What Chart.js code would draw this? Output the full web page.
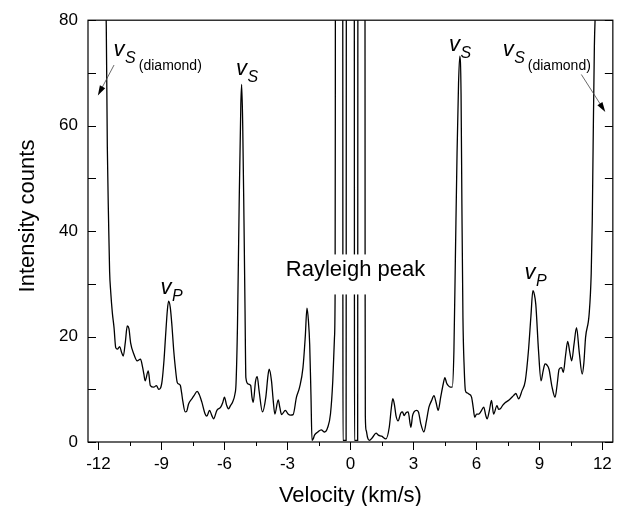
<!DOCTYPE html>
<html><head><meta charset="utf-8">
<script src="https://cdn.jsdelivr.net/npm/chart.js@4.4.1/dist/chart.umd.min.js"></script>
<style>html,body{margin:0;padding:0;background:#fff}canvas{display:block}</style>
</head><body>
<canvas id="c" width="624" height="506"></canvas>
<script>
// ---- data ----
const velocity = [
-12.5,-12.1,-11.8,-11.68,-11.63,-11.58,-11.52,-11.47,-11.42,-11.34,-11.26,-11.18,-11.1,-10.99,-10.9,-10.82,-10.72,-10.63,-10.55,-10.47,
-10.31,-10.16,-10.0,-9.9,-9.84,-9.78,-9.63,-9.53,-9.37,-9.24,-9.13,-9.05,-8.97,-8.88,-8.81,-8.72,-8.66,-8.58,-8.5,-8.42,
-8.34,-8.25,-8.18,-8.1,-8.04,-7.99,-7.87,-7.8,-7.71,-7.55,-7.45,-7.3,-7.2,-7.08,-6.92,-6.84,-6.71,-6.6,-6.52,-6.36,
-6.18,-6.08,-6.0,-5.9,-5.81,-5.7,-5.62,-5.5,-5.45,-5.38,-5.3,-5.22,-5.18,-5.13,-5.07,-5.02,-4.98,-4.87,-4.75,-4.69,
-4.63,-4.52,-4.44,-4.35,-4.19,-4.03,-3.93,-3.87,-3.76,-3.68,-3.6,-3.44,-3.36,-3.28,-3.1,-2.97,-2.85,-2.73,-2.57,-2.42,
-2.26,-2.15,-2.07,-2.0,-1.94,-1.88,-1.83,-1.77,-1.71,-1.55,-1.39,-1.23,-1.08,-0.95,-0.84,-0.76,-0.73,-0.72,-0.71,-0.5,
-0.37,-0.36,-0.355,-0.205,-0.2,-0.19,0,0.18,0.19,0.195,0.345,0.35,0.36,0.5,0.69,0.7,0.71,0.75,0.82,0.9,
1.06,1.22,1.33,1.49,1.69,1.85,1.95,2.02,2.1,2.17,2.27,2.4,2.48,2.56,2.64,2.75,2.88,2.96,3.03,3.15,
3.24,3.35,3.5,3.62,3.74,3.86,3.98,4.08,4.18,4.3,4.42,4.5,4.58,4.66,4.76,4.85,4.93,5.0,5.08,5.15,
5.21,5.27,5.31,5.36,5.42,5.48,5.56,5.64,5.77,5.85,5.92,6.01,6.11,6.22,6.35,6.45,6.51,6.62,6.72,6.82,
6.98,7.06,7.14,7.26,7.38,7.5,7.62,7.77,7.88,8.01,8.17,8.33,8.48,8.6,8.69,8.76,8.83,8.96,9.08,9.18,
9.27,9.36,9.46,9.6,9.75,9.85,9.94,10.06,10.14,10.25,10.35,10.45,10.54,10.65,10.77,10.9,11.04,11.12,11.2,11.37,
11.47,11.52,11.56,11.62,11.67,11.8,12.1,12.5
];
const intensity = [
170,130,98,84,79,56,42,32.3,28.6,24.5,21.7,17.9,17.6,18.1,17.0,16.3,19.0,22.0,21.5,18.8,
16.6,15.4,15.7,14.2,12.9,11.6,13.5,10.7,10.4,10.7,10.0,10.2,11.6,15.5,19.8,25.0,26.7,25.5,22.0,17.5,
14.1,11.3,11.0,10.7,9.3,7.9,5.7,5.8,7.2,8.2,8.8,9.6,9.0,7.6,5.3,4.9,6.0,5.0,4.4,6.0,
6.6,7.5,8.5,7.0,6.3,7.0,7.5,9.1,11,22,45,64,67.8,60,42,25,12.2,11.0,10.7,8.5,
7.5,11.5,12.4,9.7,5.7,8.5,12.5,13.8,11.6,8.0,5.3,8.0,6.5,5.2,6.0,5.3,5.1,5.2,8.5,10.4,
14.1,20,25.4,23,18.5,9,0.3,0.6,1.3,1.9,2.3,1.9,2.8,5.3,11.6,19.8,28,60,120,160,
120,40,0.3,0.3,40,120,160,120,40,0.3,0.3,40,120,160,120,30,5,2.2,0.8,0.3,
0.9,1.7,1.3,1.1,0.6,2.8,6.5,8.2,7.0,5.0,4.0,5.5,5.7,5.0,5.5,5.7,2.8,5.0,5.7,6.0,
5.7,3.5,1.9,4.0,6.6,7.8,8.8,7.5,6.0,8.5,11.0,12.2,11.2,10.7,10.4,10.4,17.3,35,55,68,
73.2,66,45,23.5,14,9.7,9.3,9.1,8.5,6.5,4.7,5.3,5.3,5.8,6.6,5.0,4.4,6.0,7.9,5.3,
6.9,6.2,6.3,7.0,7.5,7.8,8.2,8.8,9.2,8.2,9.7,11.6,17.3,24,28.7,28,26.1,17.3,11.6,13.5,
14.8,14.6,13.8,10.5,8.5,11,13.8,14.1,13.2,16.5,19.1,17,15.4,18.5,21.7,17,12.9,15,19.8,24.2,
32,42,56,75,82,100,130,170
];
const xTickLabels = [-12,-9,-6,-3,0,3,6,9,12];
const xMinorTicks = [-10.5,-7.5,-4.5,-1.5,1.5,4.5,7.5,10.5];
const yTickLabels = [0,20,40,60,80];
const yTickMarks = [0,10,20,30,40,50,60,70,80];

// text annotations (data coordinates)
const symbolLabels = [
  {x:-11.28, y:73.2, main:'v', sub:'S', extra:'(diamond)'},
  {x:7.25,   y:73.2, main:'v', sub:'S', extra:'(diamond)'},
  {x:-5.45,  y:69.6, main:'v', sub:'S', extra:''},
  {x:4.69,   y:74.1, main:'v', sub:'S', extra:''},
  {x:-9.05,  y:28.0, main:'v', sub:'P', extra:''},
  {x:8.29,   y:31.0, main:'v', sub:'P', extra:''}
];
const arrows = [
  {x1:-11.26, y1:71.5, x2:-12.03, y2:65.7},
  {x1:11.0,   y1:69.7, x2:12.14,  y2:62.6}
];
const textLabel = {x:-3.08, y:31.4, text:'Rayleigh peak'};

const FONT = '"Liberation Sans", Arial, Helvetica, sans-serif';

const decor = {
  id:'decor',
  afterDatasetsDraw(chart){
    const {ctx, chartArea:a, scales:{x,y}} = chart;
    ctx.save();
    // white box behind Rayleigh text
    const tx = x.getPixelForValue(textLabel.x), ty = y.getPixelForValue(textLabel.y);
    ctx.font = '22px '+FONT;
    const tw = ctx.measureText(textLabel.text).width;
    ctx.fillStyle='#fff';
    ctx.fillRect(tx-4, ty-22, tw+8, 40);
    ctx.fillStyle='#000';
    ctx.textBaseline='alphabetic';
    ctx.textAlign='left';
    ctx.fillText(textLabel.text, tx, ty);

    // frame
    ctx.strokeStyle='#000';
    ctx.lineWidth=1.2;
    ctx.strokeRect(a.left, a.top, a.right-a.left, a.bottom-a.top);

    // y tick marks (inside, both sides)
    ctx.lineWidth=1;
    ctx.beginPath();
    yTickMarks.forEach(v=>{
      const py = Math.round(y.getPixelForValue(v))+0.5;
      ctx.moveTo(a.left, py); ctx.lineTo(a.left+8, py);
      ctx.moveTo(a.right, py); ctx.lineTo(a.right-8, py);
    });
    // x tick marks (outside)
    xTickLabels.forEach(v=>{
      const px = Math.round(x.getPixelForValue(v))+0.5;
      ctx.moveTo(px, a.bottom); ctx.lineTo(px, a.bottom+8);
    });
    xMinorTicks.forEach(v=>{
      const px = Math.round(x.getPixelForValue(v))+0.5;
      ctx.moveTo(px, a.bottom); ctx.lineTo(px, a.bottom+4);
    });
    ctx.stroke();

    // arrows
    arrows.forEach(ar=>{
      const x1=x.getPixelForValue(ar.x1), y1=y.getPixelForValue(ar.y1);
      const x2=x.getPixelForValue(ar.x2), y2=y.getPixelForValue(ar.y2);
      const ang=Math.atan2(y2-y1,x2-x1);
      ctx.strokeStyle='#444'; ctx.lineWidth=0.8;
      ctx.beginPath(); ctx.moveTo(x1,y1); ctx.lineTo(x2-7*Math.cos(ang), y2-7*Math.sin(ang)); ctx.stroke();
      ctx.fillStyle='#000';
      ctx.beginPath();
      ctx.moveTo(x2,y2);
      ctx.lineTo(x2-10*Math.cos(ang)+3*Math.sin(ang), y2-10*Math.sin(ang)-3*Math.cos(ang));
      ctx.lineTo(x2-10*Math.cos(ang)-3*Math.sin(ang), y2-10*Math.sin(ang)+3*Math.cos(ang));
      ctx.closePath(); ctx.fill();
    });

    // symbol labels
    ctx.fillStyle='#000';
    symbolLabels.forEach(l=>{
      let px = x.getPixelForValue(l.x), py = y.getPixelForValue(l.y);
      ctx.font='italic 22px '+FONT;
      ctx.fillText(l.main, px, py);
      px += ctx.measureText(l.main).width + 0.5;
      ctx.font='italic 16px '+FONT;
      ctx.fillText(l.sub, px, py+7);
      px += ctx.measureText(l.sub).width + 3;
      if (l.extra){
        ctx.font='14px '+FONT;
        ctx.fillText(l.extra, px, py+14);
      }
    });

    // axis titles
    ctx.font='22px '+FONT;
    ctx.textAlign='center';
    ctx.fillText('Velocity (km/s)', (a.left+a.right)/2, 502);
    ctx.save();
    ctx.translate(34, 216);
    ctx.rotate(-Math.PI/2);
    ctx.fillText('Intensity counts', 0, 0);
    ctx.restore();
    ctx.restore();
  }
};

const points = velocity.map((v,i)=>({x:v, y:intensity[i]}));

new Chart(document.getElementById('c'), {
  type:'line',
  data:{datasets:[{data:points, borderColor:'#000', borderWidth:1.3, pointRadius:0, cubicInterpolationMode:'monotone', fill:false}]},
  options:{
    responsive:false, animation:false, devicePixelRatio:1,
    layout:{padding:{left:0,right:10,top:17,bottom:0}},
    plugins:{legend:{display:false}, tooltip:{enabled:false}, title:{display:false}},
    scales:{
      x:{type:'linear', min:-12.5, max:12.5,
        grid:{display:false, drawTicks:false}, border:{display:false},
        afterBuildTicks:s=>{ s.ticks = xTickLabels.map(v=>({value:v})); },
        ticks:{padding:12, color:'#000', font:{family:FONT, size:17}, maxRotation:0, autoSkip:false, callback:v=>String(v)},
        afterFit:s=>{ s.height = 64; }
      },
      y:{type:'linear', min:0, max:80,
        grid:{display:false, drawTicks:false}, border:{display:false},
        afterBuildTicks:s=>{ s.ticks = yTickLabels.map(v=>({value:v})); },
        ticks:{padding:10, color:'#000', font:{family:FONT, size:17}, callback:v=>String(v)},
        afterFit:s=>{ s.width = 88; }
      }
    }
  },
  plugins:[decor]
});
</script>
</body></html>
